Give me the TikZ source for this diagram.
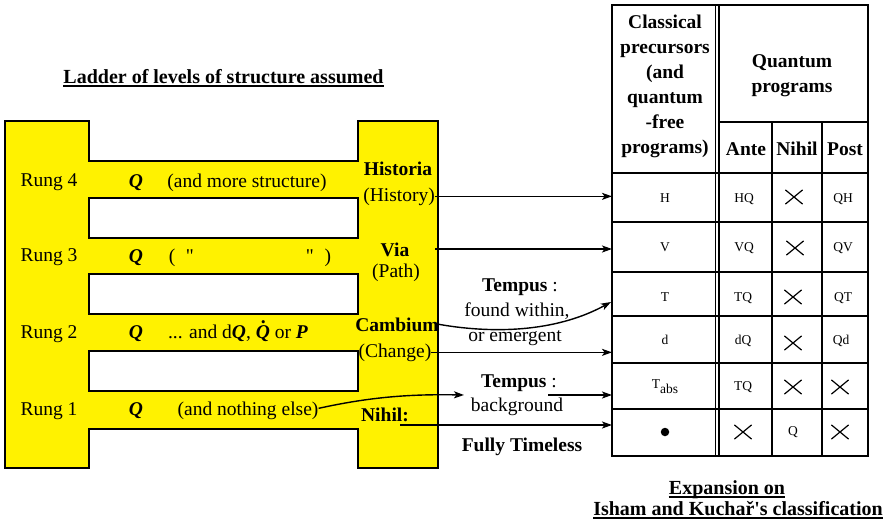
\documentclass[tikz,border=0pt]{standalone}
\usepackage{fontspec}
\setmainfont{Liberation Serif}[Ligatures=TeXOff]
\usetikzlibrary{arrows.meta,shapes.misc}
\begin{document}
\begin{tikzpicture}[x=1pt,y=-1pt,
  txt/.style={font=\fontsize{19.5}{25}\selectfont, inner sep=0pt, anchor=base},
  txtb/.style={txt, font=\fontsize{19.5}{25}\selectfont\bfseries},
  celltxt/.style={font=\fontsize{13.5}{16}\selectfont, inner sep=0pt, anchor=base},
  xmark/.style={cross out, draw, line width=1.2pt, minimum width=16pt, minimum height=13pt, inner sep=0pt},
  arr/.style={line width=1.4pt, -{Stealth[length=10pt,width=7pt,inset=2.5pt]}},
  gridline/.style={line width=1.5pt},
  ladder/.style={fill=yellow, draw=black, line width=2.4pt, line join=miter},
  hole/.style={fill=white, draw=black, line width=2.4pt},
  uline/.style={line width=1.2pt}
]
\useasboundingbox (0,0) rectangle (889,522);

% ladder
\path[ladder] (5,121) -- (89,121) -- (89,161) -- (358,161) -- (358,121) -- (438,121)
  -- (438,468) -- (358,468) -- (358,429) -- (89,429) -- (89,468) -- (5,468) -- cycle;
\foreach \a/\b in {198/238, 274/314, 351/391}
  \path[hole] (89,\a) rectangle (358,\b);

% title
\node[txtb, font=\fontsize{20}{25}\selectfont\bfseries] (title) at (223.5,83) {Ladder of levels of structure assumed};
\draw[uline] ([yshift=-3pt]title.base west) -- ([yshift=-3pt]title.base east);

% rungs
\node[txt] (rung4) at (49,186) {Rung 4};
\node[txt] (rung3) at (49,261) {Rung 3};
\node[txt] (rung2) at (49,338) {Rung 2};
\node[txt] (rung1) at (49,415) {Rung 1};
\node[txt] (q4) at (136,187) {\textbf{\textit{Q}}};
\node[txt] (q3) at (136,262) {\textbf{\textit{Q}}};
\node[txt] (q2) at (136,338) {\textbf{\textit{Q}}};
\node[txt] (q1) at (136,415) {\textbf{\textit{Q}}};
\node[txt] (more) at (247,187) {(and more structure)};
\node[txt] (ditto) at (250,262) {(\hspace{10.5pt}"\hspace{112pt}"\hspace{11pt})};
\node[txt] (dq) at (238,338) {... and d\textbf{\textit{Q}}, \textbf{\textit{\makebox[0pt][l]{\hspace{0.3em}\raisebox{0.72em}{.}}Q}} or \textbf{\textit{P}}};
\node[txt] (nothing) at (248,415) {(and nothing else)};

% right post labels
\node[txtb] (hist) at (398,175) {Historia};
\node[txt] (histb) at (399,201) {(History)};
\node[txtb] (via) at (395,256) {Via};
\node[txt] (path) at (396,277) {(Path)};
\node[txtb] (camb) at (397,331) {Cambium};
\node[txt] (chg) at (395,357) {(Change)};
\node[txtb] (nihil) at (385,421) {Nihil:};

% middle labels
\node[txt] (temp1) at (520,291) {\textbf{Tempus} :};
\node[txt] (found) at (517,316) {found within,};
\node[txt] (emerg) at (515,341) {or emergent};
\node[txt] (temp2) at (519,387) {\textbf{Tempus} :};
\node[txt] (bg) at (517,411) {background};
\node[txtb] (fully) at (522,451) {Fully Timeless};

% table grid
\coordinate (tl) at (612,0);
\draw[gridline] (612,5) rectangle (868,456);
\draw[gridline] (715.5,5) -- (715.5,456);
\draw[gridline] (718.8,5) -- (718.8,456);
\draw[gridline] (718.8,122) -- (868,122);
\foreach \y in {173,222,272,316,363,409} \draw[gridline] (612,\y) -- (868,\y);
\foreach \x in {772,822} \draw[gridline] (\x,122) -- (\x,456);

% table headers
\node[txtb, align=center, anchor=north] (hcl) at (665,14.5) {Classical\\precursors\\(and\\quantum\\-free\\programs)};
\node[txtb, align=center, anchor=north] (hqp) at (792,54.8) {Quantum\\programs};
\node[txtb] (ante) at (746,155) {Ante};
\node[txtb] (nih) at (797,155) {Nihil};
\node[txtb] (post) at (845,155) {Post};

% table body
\node[celltxt] (c11) at (665,202) {H};
\node[celltxt] (c21) at (665,251.5) {V};
\node[celltxt] (c31) at (665,301) {T};
\node[celltxt] (c41) at (665,344) {d};
\node[celltxt] (c51) at (665,388) {T\raisebox{-5pt}{abs}};
\node[fill, circle, inner sep=0pt, minimum size=8.5pt] (c61) at (665,432) {};

\node[celltxt] (c12) at (744,202) {HQ};
\node[celltxt] (c22) at (744,251.5) {VQ};
\node[celltxt] (c32) at (743,301) {TQ};
\node[celltxt] (c42) at (743,344) {dQ};
\node[celltxt] (c52) at (743,390.5) {TQ};
\node[xmark] (c62) at (743,432) {};

\node[xmark] (c13) at (794,197) {};
\node[xmark] (c23) at (795,248) {};
\node[xmark] (c33) at (793,297) {};
\node[xmark] (c43) at (793,343) {};
\node[xmark] (c53) at (793,387) {};
\node[celltxt] (c63) at (793,435) {Q};

\node[celltxt] (c14) at (843,202) {QH};
\node[celltxt] (c24) at (843,251.5) {QV};
\node[celltxt] (c34) at (843,301) {QT};
\node[celltxt] (c44) at (841,344) {Qd};
\node[xmark] (c54) at (840,387) {};
\node[xmark] (c64) at (840,432) {};

% caption
\node[txtb, font=\fontsize{20}{25}\selectfont\bfseries] (exp) at (727,494) {Expansion on};
\node[txtb, font=\fontsize{20}{25}\selectfont\bfseries] (isham) at (738,515) {Isham and Kuchař's classification};
\draw[uline] ([yshift=-3pt]exp.base west) -- ([yshift=-3pt]exp.base east);
\draw[uline] ([yshift=-3pt]isham.base west) -- ([yshift=-3pt]isham.base east);

% connectors
\coordinate (viaS) at (435,249);
\coordinate (tT) at (611,302);
\coordinate (bgIn) at (464,395);
\coordinate (bgS) at (548,395);
\coordinate (nihS) at (400,425);
\draw[arr] (histb.east) -- (histb.east -| tl);
\draw[arr] (viaS) -- (viaS -| tl);
\draw[arr] (camb.east) .. controls (500,335) and (560,330) .. (tT);
\draw[arr] (chg.east) -- (chg.east -| tl);
\draw[arr] ([yshift=2pt]nothing.east) .. controls (370,397) and (410,394) .. (bgIn);
\draw[arr] (bgS) -- (bgS -| tl);
\draw[arr] (nihS) -- (nihS -| tl);
\end{tikzpicture}
\end{document}
